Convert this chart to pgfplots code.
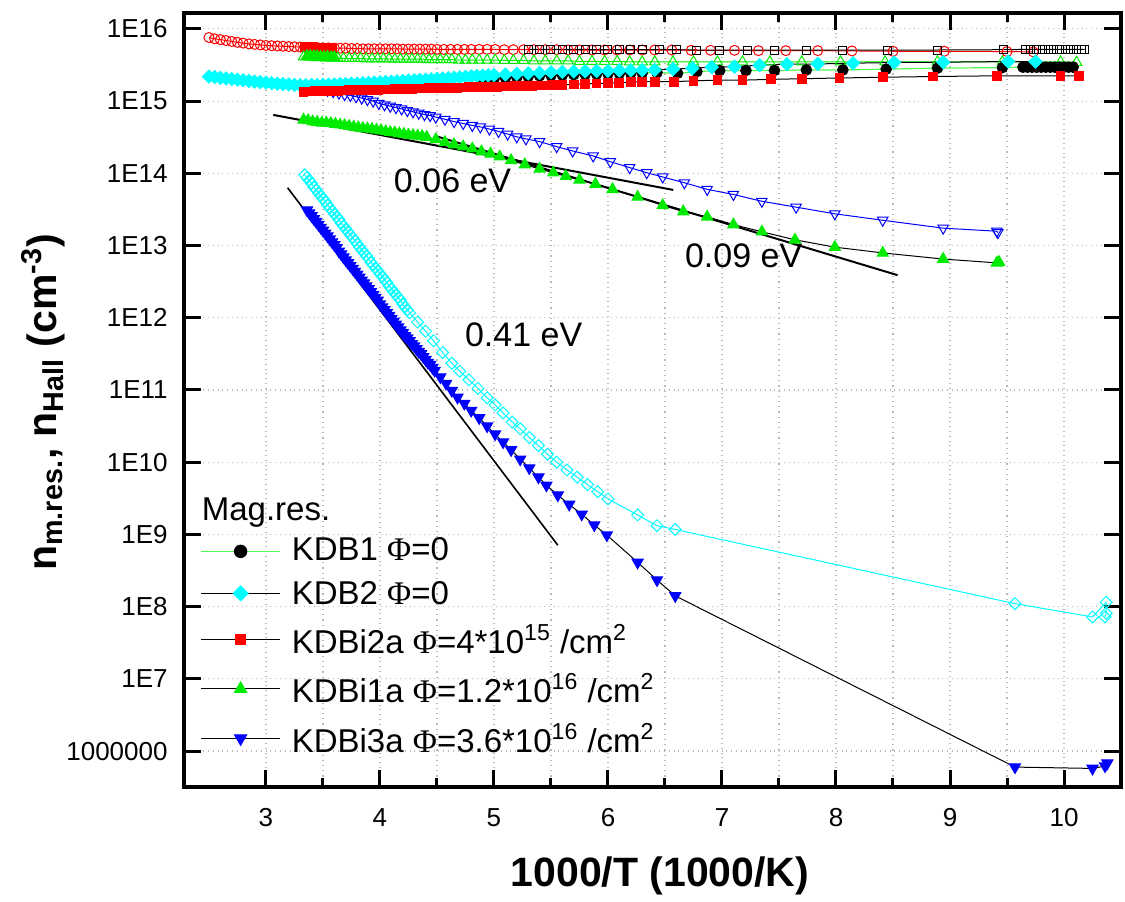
\documentclass[border=0pt]{standalone}
\usepackage{fontspec}
\setmainfont{Liberation Sans}
\newfontfamily\phifont{Liberation Serif}
\usepackage{pgfplots}
\pgfplotsset{compat=1.18}
\definecolor{ored}{RGB}{255,0,0}
\definecolor{ogreen}{RGB}{0,235,0}
\definecolor{ocyan}{RGB}{0,255,255}
\definecolor{oblue}{RGB}{0,0,255}
\definecolor{lgreen}{RGB}{80,250,80}
\definecolor{gridgray}{RGB}{185,185,185}
\newcommand{\PHI}{{\phifont Φ}}

\begin{document}
\begin{tikzpicture}
\begin{axis}[
  at={(0,0)}, anchor=south west,
  scale only axis, width=468.5pt, height=387pt,
  xmin=2.281, xmax=10.5,
  ymode=log, ymin=3.18e5, ymax=1.66e16,
  xtick={3,4,...,10}, minor x tick num=1,
  ytick={1e6,1e7,1e8,1e9,1e10,1e11,1e12,1e13,1e14,1e15,1e16},
  yticklabels={1000000,1E7,1E8,1E9,1E10,1E11,1E12,1E13,1E14,1E15,1E16},
  minor y tick style={draw=none},
  xmajorgrids, xminorgrids, ymajorgrids,
  grid style={dotted, gridgray, line width=0.6pt},
  minor grid style={dotted, gridgray, line width=0.6pt},
  axis line style={line width=1.6pt},
  tick style={line width=1.5pt, black},
  major tick length=8.5pt, minor tick length=4.5pt,
  /pgf/number format/assume math mode=true,
  tick label style={font=\fontsize{13}{15}\selectfont},
  yticklabel style={font=\fontsize{13}{15}\selectfont, inner sep=0pt, xshift=-8pt},
  xticklabel style={font=\fontsize{13}{15}\selectfont, inner sep=0pt, yshift=-10.5pt},
  xlabel={1000/T (1000/K)},
  xlabel style={font=\fontsize{20.5}{24}\selectfont\bfseries, at={(axis description cs:0.508,-0.1292)}, anchor=base},
  ylabel={n\textsubscript{m.res.}, n\textsubscript{Hall} (cm\textsuperscript{-3})},
  ylabel style={font=\fontsize{20.5}{24}\selectfont\bfseries, at={(axis description cs:-0.150,0.497)}, anchor=center},
  legend style={draw=none, fill=none, at={(0.0171,0.3786)}, anchor=north west,
    inner sep=0pt, font=\fontsize{16.5}{19}\selectfont, row sep=3pt, column sep=5.5pt,
    nodes={inner sep=0pt, text depth=4pt}},
  legend cell align=left,
  legend image code/.code={\draw[mark repeat=2,mark phase=2] plot coordinates {(0pt,0pt) (19.75pt,0pt) (39.5pt,0pt)};},
]
% legend entries
\addlegendimage{empty legend}
\addlegendentry{\hspace*{-45pt}\rule{0pt}{13pt}Mag.res.}
\addlegendimage{lgreen, line width=0.7pt, mark=*, mark size=3pt, mark options={draw=black, fill=black}}
\addlegendentry{\rule{0pt}{13pt}KDB1 \PHI=0}
\addlegendimage{black, line width=0.5pt, mark=square*, mark size=2.6pt, mark options={rotate=45, draw=ocyan, fill=ocyan}}
\addlegendentry{\rule{0pt}{15pt}KDB2 \PHI=0}
\addlegendimage{black, line width=0.5pt, mark=square*, mark size=2.5pt, mark options={draw=ored, fill=ored}}
\addlegendentry{\rule{0pt}{17.5pt}KDBi2a \PHI=4*10\textsuperscript{15} /cm\textsuperscript{2}}
\addlegendimage{black, line width=0.5pt, mark=triangle*, mark size=3.5pt, mark options={draw=ogreen, fill=ogreen}}
\addlegendentry{\rule{0pt}{17.5pt}KDBi1a \PHI=1.2*10\textsuperscript{16} /cm\textsuperscript{2}}
\addlegendimage{black, line width=0.5pt, mark=triangle*, mark size=3.5pt, mark options={rotate=180, draw=oblue, fill=oblue}}
\addlegendentry{\rule{0pt}{18pt}KDBi3a \PHI=3.6*10\textsuperscript{16} /cm\textsuperscript{2}}

% Hall: red open circles
\addplot[forget plot, ored, line width=0.5pt, mark=o, mark size=2.5pt, mark options={line width=0.5pt}] table {
2.50 7.6e15
2.55 7.3e15
2.60 7.1e15
2.65 6.9e15
2.70 6.7e15
2.75 6.5e15
2.80 6.35e15
2.85 6.2e15
2.90 6.1e15
2.95 6.0e15
3.00 5.9e15
3.05 5.85e15
3.10 5.8e15
3.15 5.75e15
3.20 5.7e15
3.25 5.65e15
3.30 5.6e15
3.35 5.55e15
3.40 5.5e15
3.45 5.5e15
3.50 5.45e15
3.55 5.45e15
3.60 5.4e15
3.65 5.4e15
3.70 5.4e15
3.75 5.35e15
3.80 5.35e15
3.85 5.3e15
3.90 5.3e15
3.95 5.3e15
4.00 5.3e15
4.05 5.3e15
4.10 5.3e15
4.15 5.3e15
4.20 5.25e15
4.25 5.25e15
4.30 5.25e15
4.35 5.25e15
4.40 5.25e15
4.45 5.25e15
4.50 5.2e15
4.56 5.2e15
4.62 5.2e15
4.68 5.2e15
4.74 5.2e15
4.80 5.2e15
4.87 5.2e15
4.94 5.2e15
5.01 5.2e15
5.09 5.15e15
5.17 5.15e15
5.26 5.15e15
5.35 5.15e15
5.45 5.15e15
5.55 5.15e15
5.65 5.1e15
5.75 5.1e15
5.86 5.1e15
5.97 5.1e15
6.08 5.1e15
6.19 5.1e15
6.30 5.1e15
6.41 5.1e15
6.56 5.1e15
6.73 5.05e15
6.90 5.05e15
7.11 5.05e15
7.32 5.0e15
7.56 5.0e15
7.84 5.0e15
8.14 4.95e15
8.50 4.9e15
8.95 4.9e15
9.50 4.85e15
9.73 4.8e15
};
% Hall: black open squares
\addplot[forget plot, black, line width=0.5pt, mark=square, mark size=2pt, mark options={line width=0.5pt}] table {
5.30 5.2e15
5.40 5.2e15
5.50 5.2e15
5.60 5.2e15
5.70 5.2e15
5.80 5.2e15
5.90 5.15e15
6.00 5.15e15
6.10 5.15e15
6.20 5.15e15
6.30 5.15e15
6.45 5.15e15
6.60 5.15e15
6.78 5.1e15
6.98 5.1e15
7.22 5.1e15
7.46 5.1e15
7.74 5.1e15
8.06 5.1e15
8.45 5.1e15
8.89 5.1e15
9.47 5.15e15
9.66 5.2e15
9.71 5.2e15
9.76 5.2e15
9.81 5.2e15
9.86 5.2e15
9.91 5.2e15
9.96 5.2e15
10.01 5.2e15
10.06 5.2e15
10.11 5.2e15
10.15 5.2e15
10.18 5.2e15
};
% red filled block at top
\addplot[forget plot, ored, line width=0.5pt, mark=square*, mark size=2.3pt] table {
3.34 5.6e15
3.37 5.55e15
3.40 5.55e15
3.43 5.5e15
3.46 5.5e15
3.49 5.5e15
3.52 5.5e15
3.55 5.45e15
3.58 5.45e15
};
% Hall: green open triangles
\addplot[forget plot, ogreen, line width=0.5pt, mark=triangle, mark size=3pt, mark options={line width=0.5pt}] table {
3.33 4.1e15
3.38 4.05e15
3.43 4.0e15
3.48 4.0e15
3.53 3.95e15
3.58 3.95e15
3.63 3.95e15
3.68 3.9e15
3.73 3.9e15
3.78 3.9e15
3.83 3.9e15
3.88 3.85e15
3.93 3.85e15
3.98 3.85e15
4.03 3.85e15
4.08 3.85e15
4.13 3.8e15
4.18 3.8e15
4.23 3.8e15
4.28 3.8e15
4.33 3.8e15
4.38 3.8e15
4.43 3.75e15
4.48 3.75e15
4.53 3.75e15
4.58 3.75e15
4.63 3.75e15
4.69 3.7e15
4.75 3.7e15
4.81 3.7e15
4.87 3.7e15
4.94 3.7e15
5.01 3.7e15
5.09 3.65e15
5.17 3.65e15
5.26 3.65e15
5.35 3.6e15
5.45 3.6e15
5.55 3.6e15
5.65 3.6e15
5.75 3.55e15
5.86 3.55e15
5.97 3.55e15
6.08 3.55e15
6.19 3.5e15
6.30 3.5e15
6.41 3.5e15
6.57 3.5e15
6.75 3.5e15
6.96 3.5e15
7.18 3.5e15
7.42 3.5e15
7.70 3.5e15
8.04 3.5e15
8.43 3.5e15
8.89 3.5e15
9.46 3.5e15
9.97 3.5e15
10.11 3.45e15
};
% green filled block at top
\addplot[forget plot, ogreen, line width=0.5pt, mark=triangle*, mark size=3.2pt] table {
3.36 4.2e15
3.39 4.2e15
3.42 4.15e15
3.45 4.15e15
3.48 4.1e15
3.51 4.1e15
3.54 4.1e15
3.57 4.05e15
3.60 4.05e15
};
% Hall: blue open inverted triangles
\addplot[forget plot, oblue, line width=0.5pt, mark=triangle, mark size=3pt, mark options={rotate=180, line width=0.5pt}] table {
3.34 1.66e15
3.39 1.58e15
3.44 1.51e15
3.49 1.48e15
3.54 1.41e15
3.59 1.35e15
3.64 1.29e15
3.69 1.23e15
3.74 1.20e15
3.79 1.15e15
3.84 1.10e15
3.89 1.05e15
3.94 1.0e15
3.99 9.3e14
4.04 8.9e14
4.09 8.5e14
4.14 8.1e14
4.19 7.8e14
4.24 7.4e14
4.29 7.1e14
4.34 6.8e14
4.39 6.5e14
4.44 6.3e14
4.49 6.0e14
4.57 5.6e14
4.65 5.2e14
4.73 4.9e14
4.81 4.6e14
4.88 4.4e14
4.96 4.1e14
5.04 3.8e14
5.12 3.5e14
5.20 3.2e14
5.28 3.0e14
5.40 2.75e14
5.55 2.34e14
5.69 2.04e14
5.87 1.74e14
6.02 1.45e14
6.19 1.2e14
6.34 1.02e14
6.48 8.9e13
6.67 7.4e13
6.87 6.0e13
7.10 5.1e13
7.35 4.1e13
7.65 3.4e13
7.99 2.75e13
8.41 2.24e13
8.94 1.74e13
9.41 1.58e13
9.42 1.51e13
};
% Hall: cyan open diamonds
\addplot[forget plot, ocyan, line width=0.5pt, mark=square, mark size=2.1pt, mark options={rotate=45, line width=0.5pt}] table {
3.34 9.55e13
3.36 8.71e13
3.38 7.94e13
3.40 7.24e13
3.42 6.46e13
3.44 5.89e13
3.46 5.37e13
3.48 4.90e13
3.50 4.47e13
3.52 4.07e13
3.54 3.63e13
3.56 3.31e13
3.58 3.02e13
3.60 2.75e13
3.62 2.51e13
3.64 2.29e13
3.66 2.04e13
3.68 1.86e13
3.70 1.70e13
3.72 1.55e13
3.74 1.41e13
3.76 1.29e13
3.78 1.17e13
3.80 1.05e13
3.82 9.55e12
3.84 8.71e12
3.86 7.94e12
3.88 7.24e12
3.90 6.61e12
3.92 5.89e12
3.94 5.37e12
3.96 4.90e12
3.98 4.47e12
4.00 4.07e12
4.02 3.72e12
4.04 3.39e12
4.06 3.09e12
4.08 2.75e12
4.10 2.51e12
4.12 2.29e12
4.14 2.09e12
4.16 1.91e12
4.18 1.74e12
4.20 1.55e12
4.22 1.41e12
4.24 1.29e12
4.26 1.17e12
4.33 8.7e11
4.40 6.5e11
4.47 4.8e11
4.55 3.3e11
4.63 2.34e11
4.70 1.82e11
4.78 1.38e11
4.86 1.05e11
4.94 7.8e10
5.01 6.2e10
5.08 4.8e10
5.16 3.6e10
5.23 2.9e10
5.31 2.2e10
5.39 1.7e10
5.47 1.29e10
5.55 1.0e10
5.64 7.8e9
5.73 6.2e9
5.82 4.9e9
5.91 3.9e9
6.00 3.1e9
6.26 1.86e9
6.43 1.32e9
6.59 1.17e9
9.57 1.1e8
10.25 7.2e7
10.37 1.15e8
10.37 8.1e7
10.36 7.2e7
};
% KDB1: black filled circles, green line
\addplot[forget plot, lgreen, line width=0.6pt, mark=*, mark size=2.6pt, mark options={draw=black, fill=black}] table {
4.90 2.0e15
4.95 2.02e15
5.00 2.04e15
5.10 2.09e15
5.20 2.14e15
5.30 2.19e15
5.40 2.24e15
5.50 2.27e15
5.60 2.29e15
5.70 2.32e15
5.80 2.35e15
5.90 2.37e15
6.00 2.4e15
6.10 2.42e15
6.20 2.44e15
6.30 2.46e15
6.43 2.48e15
6.61 2.43e15
6.78 2.56e15
6.98 2.65e15
7.21 2.65e15
7.46 2.65e15
7.74 2.70e15
8.06 2.70e15
8.44 2.77e15
8.89 2.86e15
9.46 2.91e15
9.64 2.95e15
9.68 2.95e15
9.72 2.95e15
9.76 2.95e15
9.80 2.95e15
9.84 2.95e15
9.88 2.95e15
9.92 2.95e15
9.96 2.95e15
10.00 2.95e15
10.04 2.95e15
10.08 2.95e15
};
% KDB2: cyan filled diamonds
\addplot[forget plot, black, line width=0.5pt, mark=square*, mark size=2.3pt, mark options={rotate=45, draw=ocyan, fill=ocyan}] table {
2.50 2.19e15
2.55 2.15e15
2.60 2.1e15
2.65 2.06e15
2.70 2.02e15
2.75 1.98e15
2.80 1.94e15
2.85 1.9e15
2.90 1.86e15
2.95 1.83e15
3.00 1.8e15
3.05 1.77e15
3.10 1.74e15
3.15 1.72e15
3.20 1.7e15
3.25 1.68e15
3.30 1.66e15
3.35 1.66e15
3.40 1.67e15
3.45 1.67e15
3.50 1.68e15
3.55 1.69e15
3.60 1.70e15
3.65 1.71e15
3.70 1.72e15
3.75 1.74e15
3.80 1.75e15
3.85 1.77e15
3.90 1.78e15
3.95 1.80e15
4.00 1.82e15
4.05 1.84e15
4.10 1.86e15
4.15 1.88e15
4.20 1.90e15
4.25 1.92e15
4.30 1.94e15
4.35 1.96e15
4.40 1.98e15
4.45 2.0e15
4.50 2.04e15
4.55 2.06e15
4.60 2.08e15
4.65 2.11e15
4.70 2.14e15
4.75 2.17e15
4.80 2.2e15
4.85 2.23e15
4.90 2.25e15
4.95 2.27e15
5.00 2.29e15
5.10 2.34e15
5.20 2.38e15
5.30 2.42e15
5.40 2.46e15
5.50 2.51e15
5.60 2.54e15
5.70 2.57e15
5.80 2.59e15
5.90 2.61e15
6.00 2.63e15
6.10 2.65e15
6.20 2.67e15
6.30 2.68e15
6.41 2.70e15
6.57 2.77e15
6.74 2.85e15
6.91 2.95e15
7.11 3.0e15
7.33 3.14e15
7.57 3.24e15
7.84 3.27e15
8.15 3.35e15
8.51 3.42e15
8.94 3.46e15
9.51 3.53e15
9.75 3.53e15
};
% KDBi2a: red filled squares
\addplot[forget plot, black, line width=0.5pt, mark=square*, mark size=2.2pt, mark options={draw=ored, fill=ored}] table {
3.33 1.35e15
3.38 1.36e15
3.43 1.37e15
3.48 1.37e15
3.53 1.38e15
3.58 1.39e15
3.63 1.39e15
3.68 1.40e15
3.73 1.41e15
3.78 1.41e15
3.83 1.42e15
3.88 1.43e15
3.93 1.43e15
3.98 1.44e15
4.03 1.45e15
4.08 1.45e15
4.13 1.46e15
4.18 1.47e15
4.23 1.47e15
4.28 1.48e15
4.33 1.49e15
4.38 1.49e15
4.43 1.50e15
4.48 1.51e15
4.53 1.51e15
4.58 1.52e15
4.63 1.53e15
4.68 1.53e15
4.73 1.54e15
4.78 1.55e15
4.83 1.55e15
4.88 1.56e15
4.93 1.57e15
4.98 1.57e15
5.03 1.58e15
5.08 1.59e15
5.13 1.59e15
5.18 1.60e15
5.23 1.61e15
5.28 1.62e15
5.33 1.62e15
5.42 1.64e15
5.51 1.66e15
5.60 1.68e15
5.70 1.70e15
5.80 1.73e15
5.90 1.75e15
6.00 1.78e15
6.10 1.80e15
6.20 1.83e15
6.30 1.85e15
6.41 1.86e15
6.58 1.86e15
6.75 1.91e15
6.96 1.95e15
7.18 1.95e15
7.43 2.0e15
7.70 2.04e15
8.03 2.09e15
8.41 2.14e15
8.85 2.19e15
9.41 2.24e15
9.97 2.24e15
10.13 2.24e15
};
% KDBi1a: green filled triangles
\addplot[forget plot, black, line width=0.5pt, mark=triangle*, mark size=3.2pt, mark options={draw=ogreen, fill=ogreen}] table {
3.33 5.5e14
3.37 5.4e14
3.41 5.2e14
3.45 5.1e14
3.49 5.0e14
3.53 5.0e14
3.57 4.9e14
3.61 4.8e14
3.65 4.7e14
3.69 4.6e14
3.73 4.5e14
3.77 4.4e14
3.81 4.3e14
3.85 4.2e14
3.89 4.15e14
3.93 4.1e14
3.97 4.0e14
4.01 3.9e14
4.05 3.8e14
4.09 3.7e14
4.13 3.65e14
4.17 3.55e14
4.21 3.5e14
4.25 3.4e14
4.29 3.35e14
4.33 3.3e14
4.37 3.25e14
4.41 3.16e14
4.49 2.95e14
4.57 2.7e14
4.65 2.5e14
4.73 2.34e14
4.81 2.19e14
4.89 2.0e14
4.97 1.86e14
5.05 1.7e14
5.15 1.51e14
5.27 1.32e14
5.40 1.15e14
5.52 1.02e14
5.63 9.1e13
5.75 8.1e13
5.89 7.1e13
6.04 6.0e13
6.26 4.7e13
6.48 3.6e13
6.66 2.95e13
6.87 2.5e13
7.10 1.95e13
7.35 1.55e13
7.64 1.2e13
7.99 9.5e12
8.41 7.9e12
8.94 6.5e12
9.41 5.75e12
9.43 5.9e12
};
% KDBi3a: blue filled inverted triangles
\addplot[forget plot, black, line width=0.5pt, mark=triangle*, mark size=3.2pt, mark options={rotate=180, draw=oblue, fill=oblue}] table {
3.36 3.09e13
3.38 2.82e13
3.40 2.57e13
3.42 2.34e13
3.44 2.14e13
3.46 1.95e13
3.48 1.78e13
3.50 1.62e13
3.52 1.48e13
3.54 1.35e13
3.56 1.23e13
3.58 1.12e13
3.60 1.02e13
3.62 9.33e12
3.64 8.32e12
3.66 7.59e12
3.68 6.92e12
3.70 6.31e12
3.72 5.75e12
3.74 5.25e12
3.76 4.79e12
3.78 4.37e12
3.80 3.98e12
3.82 3.63e12
3.84 3.31e12
3.86 3.02e12
3.88 2.75e12
3.90 2.51e12
3.92 2.29e12
3.94 2.09e12
3.96 1.91e12
3.98 1.74e12
4.00 1.55e12
4.02 1.41e12
4.04 1.29e12
4.06 1.17e12
4.08 1.07e12
4.10 9.77e11
4.12 8.91e11
4.14 8.13e11
4.16 7.41e11
4.18 6.76e11
4.20 6.17e11
4.22 5.62e11
4.24 5.25e11
4.26 4.79e11
4.28 4.37e11
4.30 4.07e11
4.32 3.72e11
4.34 3.39e11
4.36 3.16e11
4.38 2.88e11
4.40 2.63e11
4.42 2.40e11
4.44 2.24e11
4.46 2.04e11
4.48 1.86e11
4.53 1.51e11
4.58 1.23e11
4.63 9.8e10
4.68 7.9e10
4.74 6.5e10
4.80 5.2e10
4.87 4.1e10
4.94 3.16e10
5.01 2.45e10
5.08 1.9e10
5.15 1.48e10
5.23 1.1e10
5.31 8.3e9
5.39 6.2e9
5.46 4.8e9
5.56 3.5e9
5.66 2.6e9
5.77 1.9e9
5.88 1.35e9
5.99 9.8e8
6.26 4.1e8
6.43 2.34e8
6.59 1.41e8
9.57 6.0e5
10.25 5.75e5
10.36 6.2e5
10.38 6.8e5
};
% activation-energy fits
\addplot[forget plot, black, line width=1pt] coordinates {(3.064,6.44e14) (6.573,5.89e13)};
\addplot[forget plot, black, line width=1pt] coordinates {(4.48,3.31e14) (8.54,3.89e12)};
\addplot[forget plot, black, line width=0.8pt] coordinates {(3.19,6.31e13) (5.56,7.08e8)};
\node[anchor=base west, font=\fontsize{17}{20}\selectfont] at (axis cs:4.061,5.4e13) {0.06 eV};
\node[anchor=base west, font=\fontsize{17}{20}\selectfont] at (axis cs:6.614,5.0e12) {0.09 eV};
\node[anchor=base west, font=\fontsize{17}{20}\selectfont] at (axis cs:4.684,3.98e11) {0.41 eV};
\end{axis}
\pgfresetboundingbox
\path[use as bounding box] (-92pt,-57pt) rectangle (470.5pt,393.5pt);
\end{tikzpicture}
\end{document}
